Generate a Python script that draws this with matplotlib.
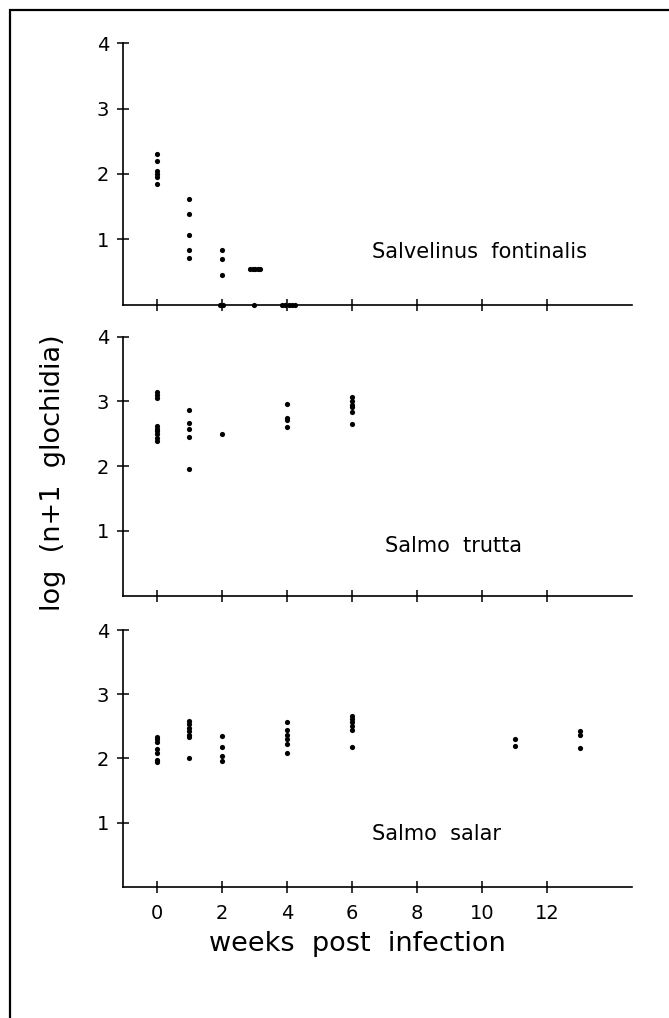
import matplotlib
matplotlib.use('Agg')
import matplotlib.pyplot as plt
from matplotlib.lines import Line2D

# weeks post infection and log(n+1 glochidia)
fontinalis_weeks = [0, 0, 0, 0, 0, 0,
                    1, 1, 1, 1, 1,
                    2, 2, 2, 1.95, 2.05,
                    2.87, 2.95, 3.02, 3.1, 3.17, 3.0,
                    3.84, 3.95, 4.05, 4.15, 4.25]
fontinalis_log = [2.30, 2.20, 2.04, 2.00, 1.96, 1.84,
                  1.62, 1.39, 1.07, 0.84, 0.71,
                  0.84, 0.69, 0.45, 0.0, 0.0,
                  0.55, 0.55, 0.55, 0.55, 0.55, 0.0,
                  0.0, 0.0, 0.0, 0.0, 0.0]

trutta_weeks = [0, 0, 0, 0, 0, 0, 0, 0, 0,
                1, 1, 1, 1, 1,
                2,
                4, 4, 4, 4,
                6, 6, 6, 6, 6, 6]
trutta_log = [3.14, 3.10, 3.06, 2.62, 2.58, 2.54, 2.49, 2.44, 2.39,
              2.87, 2.67, 2.57, 2.45, 1.95,
              2.50,
              2.96, 2.75, 2.71, 2.61,
              3.07, 3.00, 2.95, 2.91, 2.84, 2.65]

salar_weeks = [0, 0, 0, 0, 0, 0, 0,
               1, 1, 1, 1, 1, 1, 1,
               2, 2, 2, 2,
               4, 4, 4, 4, 4, 4,
               6, 6, 6, 6, 6, 6,
               11, 11,
               13, 13, 13]
salar_log = [2.34, 2.30, 2.26, 2.14, 2.08, 1.98, 1.94,
             2.58, 2.53, 2.48, 2.42, 2.37, 2.33, 2.00,
             2.35, 2.18, 2.04, 1.96,
             2.57, 2.44, 2.36, 2.30, 2.23, 2.09,
             2.66, 2.61, 2.56, 2.50, 2.44, 2.17,
             2.30, 2.20,
             2.42, 2.36, 2.16]

species = ['Salvelinus  fontinalis', 'Salmo  trutta', 'Salmo  salar']
label_pos = [(6.6, 0.81), (7.0, 0.77), (6.6, 0.82)]
x_ticks = [0, 2, 4, 6, 8, 10, 12]
y_ticks = [1, 2, 3, 4]

W, H = 669, 1018
fig = plt.figure(figsize=(W / 100, H / 100), dpi=100)

# panel boxes in pixels: (top of y=4, bottom at y=0)
panels = [(43.3, 304.5), (336.7, 595.7), (630, 886.7)]
left_px, right_px = 122.5, 632
data = [(fontinalis_weeks, fontinalis_log),
        (trutta_weeks, trutta_log),
        (salar_weeks, salar_log)]

for i, ((top, bot), (wx, wy)) in enumerate(zip(panels, data)):
    ax = fig.add_axes([left_px / W, 1 - bot / H, (right_px - left_px) / W, (bot - top) / H])
    ax.scatter(wx, wy, s=14, color='black', linewidths=0, clip_on=False, zorder=5)
    ax.set_xlim(-1.05, 14.6)
    ax.set_ylim(0, 4)
    ax.spines['top'].set_visible(False)
    ax.spines['right'].set_visible(False)
    for s in ('left', 'bottom'):
        ax.spines[s].set_linewidth(1.2)
    ax.set_xticks(x_ticks)
    ax.set_yticks(y_ticks)
    ax.tick_params(direction='inout', length=9, width=1.1, labelsize=14, colors='black')
    ax.tick_params(axis='y', pad=5)
    ax.tick_params(axis='x', pad=8)
    if i < 2:
        ax.set_xticklabels([])
    lx, ly = label_pos[i]
    ax.text(lx, ly, species[i], fontsize=15, va='center', ha='left')

fig.text(53 / W, 1 - 473 / H, 'log  (n+1  glochidia)', rotation=90,
         fontsize=19.5, ha='center', va='center')
fig.text(357 / W, 1 - 944 / H, 'weeks  post  infection',
         fontsize=19.5, ha='center', va='center')

# frame around the figure (left and top edges)
fig.add_artist(Line2D([10 / W, 10 / W, 1.0], [0.0, 1 - 10 / H, 1 - 10 / H],
                      transform=fig.transFigure, color='black', linewidth=1.6,
                      solid_capstyle='butt', solid_joinstyle='miter'))

fig.savefig('out.png', dpi=100)
